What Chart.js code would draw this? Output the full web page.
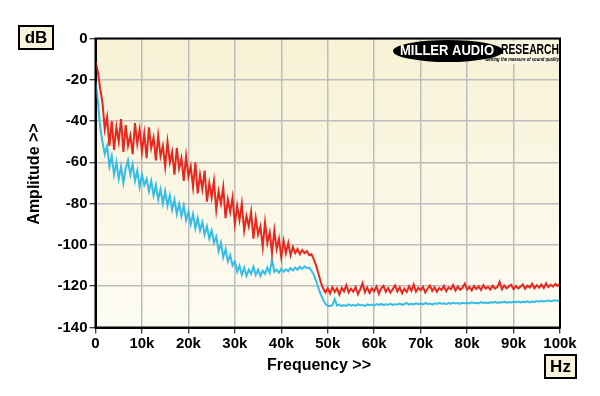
<!DOCTYPE html>
<html>
<head>
<meta charset="utf-8">
<script src="https://cdn.jsdelivr.net/npm/chart.js@4/dist/chart.umd.min.js"></script>
<style>
  html, body { margin: 0; padding: 0; background: #ffffff; }
  canvas { display: block; }
</style>
</head>
<body>
<canvas id="spectrumChart" width="600" height="396"></canvas>
<script>
// spacing of the measured points along the frequency axis
const freqStepHz = 500;

const xTickLabels = ['0', '10k', '20k', '30k', '40k', '50k', '60k', '70k', '80k', '90k', '100k'];

// upper trace (red), dB, one value every 500 Hz from 0 to 100k
const redLevels = [
    -11, -16, -24, -31, -44, -38, -52, -40, -54, -43,
    -50, -39, -55, -42, -52, -47, -56, -41, -51, -44,
    -55, -46, -58, -43, -53, -48, -59, -47, -57, -52,
    -62, -50, -60, -55, -66, -53, -63, -58, -69, -57,
    -67, -62, -72, -60, -75, -66, -73, -64, -79, -70,
    -77, -69, -83, -74, -80, -72, -87, -78, -84, -77,
    -90, -81, -88, -80, -93, -86, -91, -84, -97, -87,
    -95, -91, -101, -89, -99, -94, -104, -93, -102, -97,
    -106, -98, -104, -99, -105, -101, -104, -102, -104.5, -102.5,
    -104, -103, -105, -104.5, -107, -110, -114, -118, -121, -123,
    -121,
    -123.5, -120.5, -122.8, -121, -124, -120.8, -122.5, -119.5, -123, -121.2,
    -122.6, -120.4, -123.8, -121.5, -118.5, -122.9, -120.7, -123.2, -121, -122.4,
    -120.2, -123.6, -121.1, -119.8, -122.7, -120.9, -123.1, -121.4, -119.6, -122.5,
    -120.6, -123.4, -121.2, -122.8, -120.1, -122.2, -119.2, -122.6, -120.8, -121.9,
    -120.3, -123, -121.1, -119.7, -122.3, -120.5, -122.7, -120.9, -121.8, -119.9,
    -122.4, -120.6, -121.5, -119.4, -122.1, -120.2, -121.7, -120.8, -118.7, -121.6,
    -120.4, -122, -119.9, -121.3, -120.1, -121.8, -119.5, -121.1, -120.3, -121.6,
    -119.8, -121.2, -120.4, -117.9, -121.5, -119.6, -121, -120.1, -119.3, -121.4,
    -119.9, -121.1, -120.2, -119.1, -121.3, -119.7, -120.6, -118.8, -121, -119.5,
    -120.7, -119.2, -120.9, -118.6, -120.4, -119.3, -120.2, -118.9, -119.8, -118.7
];

// lower trace (blue), dB, same frequency points
const blueLevels = [
    -21, -30, -43, -50, -56, -52, -62, -57, -66, -60,
    -68, -62, -70, -63, -59, -66, -61, -69, -64, -72,
    -66, -71, -68, -74, -69, -76, -71, -78, -73, -80,
    -74, -81, -76, -83, -78, -85, -80, -86, -81, -88,
    -84, -90, -85, -92, -87, -93, -89, -95, -91, -97,
    -93, -99, -96, -103, -99, -106, -102, -108, -105, -110,
    -108, -113, -110, -114.5, -111, -115, -112, -114, -110.5, -114.5,
    -112, -115, -112.5, -114, -111, -113.5, -107, -113, -112, -113.5,
    -111.5, -113, -111.8, -112.8, -111.2, -112.4, -110.9, -112, -110.6, -111.6,
    -110.4, -111.3, -111, -112.5, -114.5, -117.5, -121, -124, -126.5, -128.5,
    -129.5,
    -129.6, -129.2, -126.3, -129.4, -128.9, -129.6, -129.1, -129.5, -128.8, -129.4,
    -129, -129.5, -128.7, -129.3, -129, -129.6, -128.8, -129.2, -128.9, -129.4,
    -128.7, -129.1, -128.6, -129.2, -128.8, -129, -128.5, -129.1, -128.7, -128.9,
    -128.4, -129, -128.6, -128.2, -128.9, -128.5, -128.8, -128.3, -128.7, -128.4,
    -128.8, -128.2, -128.6, -128.4, -128.9, -128.3, -128.6, -128.1, -128.5, -128.3,
    -128.7, -128.2, -128.5, -127.9, -128.4, -128.1, -128.6, -128, -128.3, -128.1,
    -128.4, -127.8, -128.2, -128, -128.3, -127.7, -128.1, -127.9, -128.2, -127.8,
    -128, -127.6, -128.1, -127.8, -127.9, -127.5, -128, -127.7, -127.9, -127.5,
    -127.8, -127.4, -127.9, -127.5, -127.7, -127.3, -127.8, -127.4, -127.6, -127.2,
    -127.5, -127.1, -127.4, -127.2, -126.9, -127.3, -127, -126.8, -127.1, -126.7
];

const toPoints = (levels) => levels.map((db, i) => ({ x: i * freqStepHz, y: db }));

const FONT = '"Liberation Sans", Arial, sans-serif';

const framePlugin = {
    id: 'frame',
    beforeDraw(chart) {
        const { ctx, chartArea: a } = chart;
        const grad = ctx.createLinearGradient(0, a.top, 0, a.bottom);
        grad.addColorStop(0, '#f7f2d5');
        grad.addColorStop(1, '#fdfcf3');
        ctx.save();
        ctx.fillStyle = grad;
        ctx.fillRect(a.left, a.top, a.right - a.left, a.bottom - a.top);
        ctx.restore();
    },
    afterDraw(chart) {
        const { ctx, chartArea: a } = chart;
        ctx.save();

        // box round the plot
        ctx.strokeStyle = '#000';
        ctx.lineWidth = 2;
        ctx.strokeRect(a.left, a.top, a.right - a.left, a.bottom - a.top);

        // unit boxes
        const unitBox = (txt, x, y, w, h) => {
            ctx.fillStyle = '#f8f4dc';
            ctx.fillRect(x, y, w, h);
            ctx.strokeStyle = '#000';
            ctx.lineWidth = 2;
            ctx.strokeRect(x, y, w, h);
            ctx.fillStyle = '#000';
            ctx.font = 'bold 17px ' + FONT;
            ctx.textAlign = 'center';
            ctx.textBaseline = 'middle';
            ctx.fillText(txt, x + w / 2, y + h / 2 + 1);
        };
        unitBox('dB', 19, 26, 34, 23);
        unitBox('Hz', 545, 355, 31, 23);

        // axis titles
        ctx.fillStyle = '#000';
        ctx.font = 'bold 16px ' + FONT;
        ctx.textAlign = 'center';
        ctx.textBaseline = 'middle';
        ctx.fillText('Frequency >>', 319, 366);
        ctx.save();
        ctx.translate(35, 174);
        ctx.rotate(-Math.PI / 2);
        ctx.fillText('Amplitude >>', 0, 0);
        ctx.restore();

        // logo
        ctx.fillStyle = '#f9f6e2';
        ctx.fillRect(500, 41, 59, 23);
        ctx.fillStyle = '#000';
        ctx.beginPath();
        ctx.ellipse(448, 51, 55, 11, 0, 0, Math.PI * 2);
        ctx.fill();
        ctx.fillStyle = '#fff';
        ctx.font = 'bold 14px ' + FONT;
        ctx.textAlign = 'left';
        ctx.fillText('MILLER AUDIO', 400, 51.5, 94);
        ctx.fillStyle = '#000';
        ctx.fillText('RESEARCH', 501, 50.5, 58);
        ctx.font = 'italic bold 6px ' + FONT;
        ctx.fillText('Getting the measure of sound quality', 485, 59.5, 74);

        ctx.restore();
    }
};

const tickFont = { family: FONT, size: 15, weight: 'bold' };

new Chart(document.getElementById('spectrumChart'), {
    type: 'line',
    data: {
        datasets: [
            {
                label: 'Upper',
                data: toPoints(redLevels),
                borderColor: '#e8281e',
                borderWidth: 2,
                pointRadius: 0,
                tension: 0
            },
            {
                label: 'Lower',
                data: toPoints(blueLevels),
                borderColor: '#35bde8',
                borderWidth: 2,
                pointRadius: 0,
                tension: 0
            }
        ]
    },
    options: {
        responsive: false,
        animation: false,
        devicePixelRatio: 1,
        layout: { padding: { left: 0, top: 38.5, right: 40, bottom: 0 } },
        plugins: {
            legend: { display: false },
            tooltip: { enabled: false }
        },
        scales: {
            x: {
                type: 'linear',
                min: 0,
                max: 100000,
                afterFit: (scale) => { scale.height = 68.5; },
                ticks: {
                    stepSize: 10000,
                    color: '#000',
                    font: tickFont,
                    padding: 1,
                    maxRotation: 0,
                    callback: (v) => xTickLabels[Math.round(v / 10000)]
                },
                grid: { color: '#bdbdbd', lineWidth: 1.5, tickColor: '#000', tickLength: 6, tickWidth: 1 },
                border: { display: true, color: '#000', width: 2 }
            },
            y: {
                min: -140,
                max: 0,
                afterFit: (scale) => { scale.width = 95.5; },
                ticks: {
                    stepSize: 20,
                    color: '#000',
                    font: tickFont,
                    padding: 2
                },
                grid: { color: '#bdbdbd', lineWidth: 1.5, tickColor: '#000', tickLength: 6, tickWidth: 1 },
                border: { display: true, color: '#000', width: 2 }
            }
        }
    },
    plugins: [framePlugin]
});
</script>
</body>
</html>
